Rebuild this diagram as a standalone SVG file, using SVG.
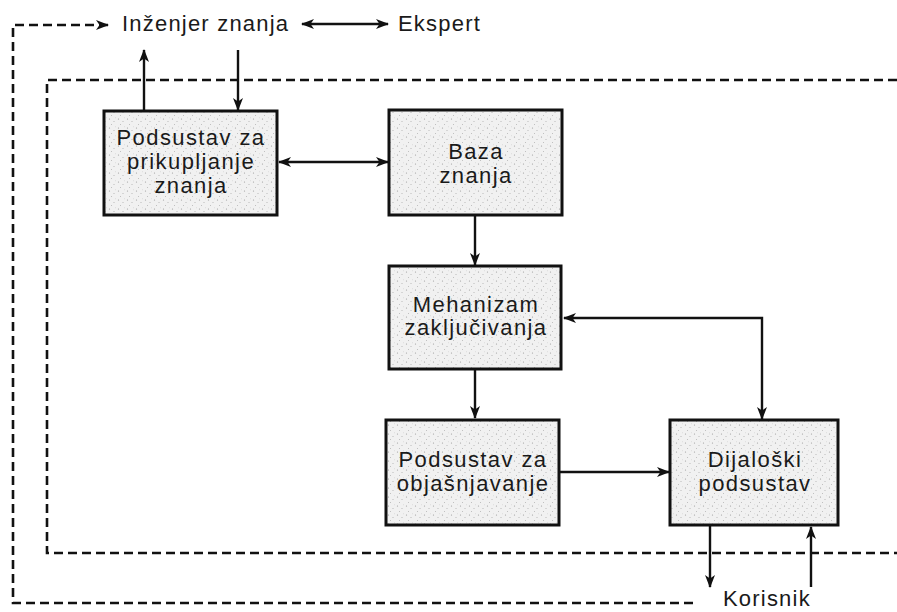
<svg xmlns="http://www.w3.org/2000/svg" width="897" height="612" viewBox="0 0 897 612">
<style>
.box{fill:url(#stipple);stroke:#111;stroke-width:3}
.lbl{font-family:"Liberation Sans",Arial,sans-serif;font-size:22px;letter-spacing:1.4px;fill:#1a1a1a;text-anchor:middle}
.ext{font-family:"Liberation Sans",Arial,sans-serif;font-size:22px;letter-spacing:1.2px;fill:#1a1a1a}
.con{fill:none;stroke:#111;stroke-width:2.4}
.dash{fill:none;stroke:#111;stroke-width:2.6;stroke-dasharray:9,5}
</style>
<defs>
<pattern id="stipple" width="9" height="9" patternUnits="userSpaceOnUse">
<rect width="9" height="9" fill="#f1f1f1"/>
<circle cx="1.5" cy="2" r="0.6" fill="#9a9a9a"/>
<circle cx="6" cy="4.5" r="0.5" fill="#a8a8a8"/>
<circle cx="3.5" cy="7.5" r="0.5" fill="#b0b0b0"/>
<circle cx="7.5" cy="0.8" r="0.4" fill="#b8b8b8"/>
</pattern>
<marker id="ah" viewBox="0 0 13 11" refX="12" refY="5.5" markerWidth="13" markerHeight="11" markerUnits="userSpaceOnUse" orient="auto-start-reverse">
<path d="M0,0.5 L13,5.5 L0,10.5 L3.5,5.5 z" fill="#111"/>
</marker>
</defs>

<g id="boundaries">
<path class="dash" d="M897,80 L47,80 L47,553 L897,553"/>
<path class="dash" d="M693,603 L13,603 L13,25 L108,25" marker-end="url(#ah)"/>
</g>

<g id="connectors">
<line class="con" x1="302" y1="24" x2="388" y2="24" marker-start="url(#ah)" marker-end="url(#ah)"/>
<line class="con" x1="144" y1="111" x2="144" y2="50" marker-end="url(#ah)"/>
<line class="con" x1="238" y1="50" x2="238" y2="110" marker-end="url(#ah)"/>
<line class="con" x1="279" y1="162" x2="388" y2="162" marker-start="url(#ah)" marker-end="url(#ah)"/>
<line class="con" x1="475" y1="216" x2="475" y2="265" marker-end="url(#ah)"/>
<line class="con" x1="475" y1="369" x2="475" y2="418" marker-end="url(#ah)"/>
<path class="con" d="M564,318 L762,318 L762,419" marker-start="url(#ah)" marker-end="url(#ah)"/>
<line class="con" x1="559" y1="472" x2="669" y2="472" marker-end="url(#ah)"/>
<line class="con" x1="710" y1="526" x2="710" y2="587" marker-end="url(#ah)"/>
<line class="con" x1="811" y1="587" x2="811" y2="527" marker-end="url(#ah)"/>
</g>

<g id="externals">
<text class="ext" x="122" y="31">Inženjer znanja</text>
<text class="ext" x="398" y="31">Ekspert</text>
<text class="ext" x="723" y="606">Korisnik</text>
</g>

<g id="n-prikupljanje">
<rect class="box" x="104" y="111" width="173" height="104"/>
<text class="lbl" x="191" y="145">Podsustav za</text>
<text class="lbl" x="191" y="169">prikupljanje</text>
<text class="lbl" x="191" y="193">znanja</text>
</g>

<g id="n-baza">
<rect class="box" x="389" y="110" width="173" height="105"/>
<text class="lbl" x="476" y="159">Baza</text>
<text class="lbl" x="476" y="183">znanja</text>
</g>

<g id="n-mehanizam">
<rect class="box" x="389" y="266" width="172" height="103"/>
<text class="lbl" x="476" y="312">Mehanizam</text>
<text class="lbl" x="476" y="335">zaključivanja</text>
</g>

<g id="n-objasnjavanje">
<rect class="box" x="386" y="420" width="173" height="105"/>
<text class="lbl" x="473" y="467">Podsustav za</text>
<text class="lbl" x="473" y="491">objašnjavanje</text>
</g>

<g id="n-dijaloski">
<rect class="box" x="670" y="420" width="168" height="105"/>
<text class="lbl" x="755" y="467">Dijaloški</text>
<text class="lbl" x="755" y="491">podsustav</text>
</g>
</svg>
